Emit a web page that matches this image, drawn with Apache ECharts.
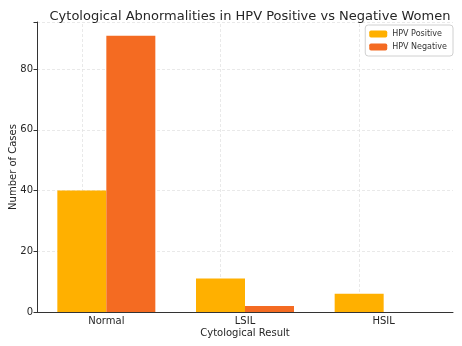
<!DOCTYPE html>
<html><head><meta charset="utf-8">
<script src="https://cdn.jsdelivr.net/npm/echarts@6/dist/echarts.min.js"></script>
<style>html,body{margin:0;padding:0;background:#fff}#c{width:462px;height:346px}</style>
</head><body><div id="c"></div>
<script>
const categories = ['Normal', 'LSIL', 'HSIL'];
const hpvPositive = [40, 11, 6];
const hpvNegative = [91, 2, 0];
const yTicks = [0, 20, 40, 60, 80];

const font = 'DejaVu Sans';
const chart = echarts.init(document.getElementById('c'), null, {renderer: 'canvas'});
const gridLine = {lineStyle: {color: '#e3e3e3', type: [3, 2], width: 0.8}};
chart.setOption({
  animation: false,
  title: {text: 'Cytological Abnormalities in HPV Positive vs Negative Women', left: 245, textAlign: 'center', top: 5,
    textStyle: {fontFamily: font, fontSize: 13, fontWeight: 'normal', color: '#262626'}},
  legend: {orient: 'vertical', right: 9, top: 25, itemWidth: 18, itemHeight: 7, itemGap: 5,
    padding: [5, 6, 5, 4], borderColor: '#d0d0d0', borderWidth: 1, borderRadius: 3,
    textStyle: {fontFamily: font, fontSize: 8, color: '#333'}, data: ['HPV Positive', 'HPV Negative']},
  grid: {left: 37, right: 9, top: 22, bottom: 34, outerBoundsMode: 'none', containLabel: false},
  xAxis: {type: 'category', data: categories,
    name: 'Cytological Result', nameLocation: 'middle', nameGap: 16, nameMoveOverlap: false,
    nameTextStyle: {fontFamily: font, fontSize: 10, color: '#262626'},
    axisLine: {lineStyle: {color: '#333', width: 1}},
    axisTick: {alignWithLabel: true, length: 3.5, lineStyle: {color: '#333'}},
    axisLabel: {fontFamily: font, fontSize: 10, color: '#262626', margin: 4},
    splitLine: {show: false}},
  yAxis: {type: 'value', min: 0, max: 95.55, interval: 20,
    name: 'Number of Cases', nameLocation: 'middle', nameGap: 19, nameMoveOverlap: false,
    nameTextStyle: {fontFamily: font, fontSize: 10, color: '#262626'},
    axisLine: {show: true, lineStyle: {color: '#333', width: 1}},
    axisTick: {show: true, length: 3.5, lineStyle: {color: '#333'}},
    axisLabel: {fontFamily: font, fontSize: 10, color: '#262626', margin: 4,
      formatter: v => yTicks.includes(v) ? String(v) : ''},
    splitLine: {show: true, ...gridLine}},
  series: [
    {name: 'HPV Positive', type: 'bar', data: hpvPositive, barWidth: 49, barGap: '0%',
      itemStyle: {color: '#ffb000'},
      markLine: {silent: true, symbol: 'none', label: {show: false}, ...gridLine, z: 0,
        data: categories.map(c => ({xAxis: c}))}},
    {name: 'HPV Negative', type: 'bar', data: hpvNegative, barWidth: 49, barGap: '0%',
      itemStyle: {color: '#f46b22'}}
  ]
});
</script></body></html>
